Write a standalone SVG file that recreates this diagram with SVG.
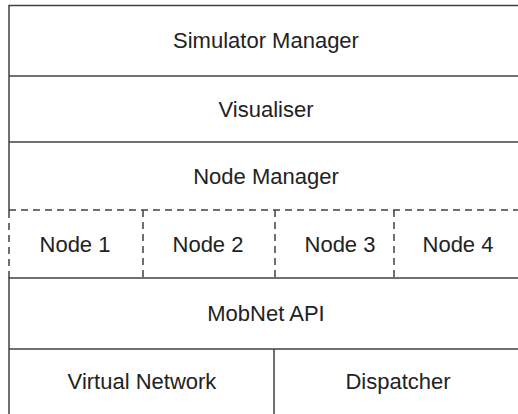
<svg xmlns="http://www.w3.org/2000/svg" width="518" height="414" viewBox="0 0 518 414">
  <style>
    .solid { fill: none; stroke: #404040; stroke-width: 1.5; }
    .dash { fill: none; stroke: #404040; stroke-width: 1.5; stroke-dasharray: 7 5; }
    text { font-family: "Liberation Sans", Arial, sans-serif; font-size: 22px; fill: #222; text-anchor: middle; }
  </style>
  <rect width="518" height="414" fill="#fff"/>

  <!-- layer stack, open on the right and bottom -->
  <g id="simulator-manager">
    <path class="solid" d="M9,414 V5.5 H518"/>
    <text x="266" y="48">Simulator Manager</text>
  </g>
  <g id="visualiser">
    <path class="solid" d="M9,76 H518"/>
    <text x="266" y="117">Visualiser</text>
  </g>
  <g id="node-manager">
    <path class="solid" d="M9,142 H518"/>
    <text x="266" y="184">Node Manager</text>
  </g>
  <g id="nodes">
    <rect x="0" y="211" width="12" height="66" fill="#fff"/>
    <path class="dash" d="M9,210 H518"/>
    <path class="dash" d="M9,211 V278"/>
    <g id="node-1"><text x="75" y="252">Node 1</text></g>
    <g id="node-2"><path class="dash" d="M143,210 V278"/><text x="208" y="252">Node 2</text></g>
    <g id="node-3"><path class="dash" d="M275,210 V278"/><text x="340" y="252">Node 3</text></g>
    <g id="node-4"><path class="dash" d="M394,210 V278"/><text x="458" y="252">Node 4</text></g>
  </g>
  <g id="mobnet-api">
    <path class="solid" d="M9,278 H518"/>
    <text x="266" y="321">MobNet API</text>
  </g>
  <g id="virtual-network">
    <path class="solid" d="M9,349 H518"/>
    <text x="142" y="389">Virtual Network</text>
  </g>
  <g id="dispatcher">
    <path class="solid" d="M274,349 V414"/>
    <text x="398" y="389">Dispatcher</text>
  </g>
  <g id="connectors"/>
</svg>
